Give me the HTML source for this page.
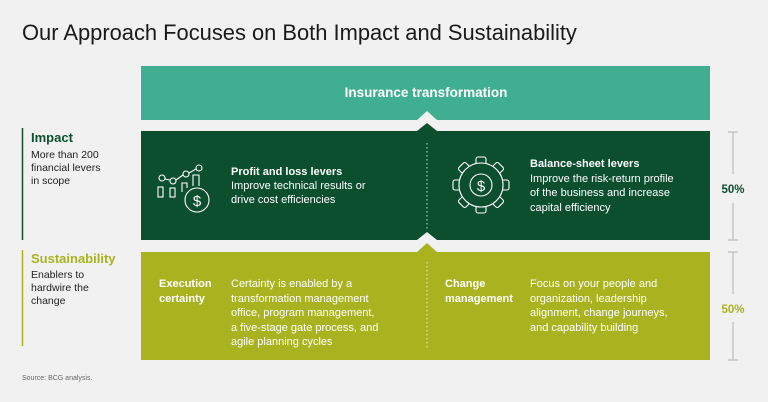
<!DOCTYPE html>
<html><head><meta charset="utf-8"><style>
body{margin:0;width:768px;height:402px;background:#f1f1f1;overflow:hidden;font-family:"Liberation Sans",sans-serif}
svg{position:absolute;left:0;top:0}
</style></head><body>
<svg width="768" height="402" viewBox="0 0 768 402" font-family="Liberation Sans, sans-serif">
<rect width="768" height="402" fill="#f1f1f1"/>
<text x="22" y="40" font-size="21.9" fill="#1a1a1a">Our Approach Focuses on Both Impact and Sustainability</text>
<polygon points="141,66 710,66 710,120 437,120 427,111 417,120 141,120" fill="#3fae91"/>
<text x="426" y="97" font-size="13.5" font-weight="bold" fill="#fff" text-anchor="middle">Insurance transformation</text>
<polygon points="141,131 417,131 427,123 437,131 710,131 710,240 437,240 427,232 417,240 141,240" fill="#0c4f2f"/>
<polygon points="141,252 417,252 427,243 437,252 710,252 710,360 141,360" fill="#a9b320"/>
<line x1="427" y1="143" x2="427" y2="230" stroke="#fff" stroke-width="1" stroke-dasharray="1.5,2.5" opacity=".8"/>
<line x1="427" y1="262" x2="427" y2="350" stroke="#fff" stroke-width="1" stroke-dasharray="1.5,2.5" opacity=".8"/>
<line x1="22.5" y1="128" x2="22.5" y2="240" stroke="#0c4f2f" stroke-width="1.5"/>
<text x="31" y="142" font-size="13" font-weight="bold" fill="#0c4f2f">Impact</text>
<text font-size="10.5" fill="#222"><tspan x="31" y="158">More than 200</tspan><tspan x="31" y="171">financial levers</tspan><tspan x="31" y="184">in scope</tspan></text>
<line x1="22.5" y1="250" x2="22.5" y2="346" stroke="#a9b320" stroke-width="1.5"/>
<text x="31" y="263" font-size="13" font-weight="bold" fill="#a9b320">Sustainability</text>
<text font-size="10.5" fill="#222"><tspan x="31" y="278">Enablers to</tspan><tspan x="31" y="291">hardwire the</tspan><tspan x="31" y="304">change</tspan></text>
<g stroke="#fff" stroke-width="1.1" fill="none">
<circle cx="162" cy="178" r="3"/><circle cx="173" cy="181" r="3"/><circle cx="186" cy="174" r="3"/><circle cx="199" cy="168" r="3"/>
<line x1="165" y1="179" x2="170" y2="180"/><line x1="176" y1="180" x2="183" y2="175"/><line x1="189" y1="173" x2="196" y2="169"/>
<rect x="158" y="187" width="5" height="10"/><rect x="170" y="188" width="5" height="9"/>
<polyline points="182,192 182,183 187,183 187,188"/><polyline points="193,186 193,175 199,175 199,186"/>
<circle cx="197" cy="200" r="12" fill="#0c4f2f"/>
</g>
<text x="197" y="206" font-size="15" fill="#fff" text-anchor="middle">$</text>
<g stroke="#fff" stroke-width="1.1" fill="#0c4f2f">
<rect x="476" y="157" width="10" height="10" rx="2"/>
<rect x="476" y="157" width="10" height="10" rx="2" transform="rotate(45 481 185)"/>
<rect x="476" y="157" width="10" height="10" rx="2" transform="rotate(90 481 185)"/>
<rect x="476" y="157" width="10" height="10" rx="2" transform="rotate(135 481 185)"/>
<rect x="476" y="157" width="10" height="10" rx="2" transform="rotate(180 481 185)"/>
<rect x="476" y="157" width="10" height="10" rx="2" transform="rotate(225 481 185)"/>
<rect x="476" y="157" width="10" height="10" rx="2" transform="rotate(270 481 185)"/>
<rect x="476" y="157" width="10" height="10" rx="2" transform="rotate(315 481 185)"/>
<circle cx="481" cy="185" r="22"/>
<circle cx="481" cy="185" r="11" fill="none"/>
</g>
<text x="481" y="191" font-size="15" fill="#fff" text-anchor="middle">$</text>
<text font-size="11" fill="#fff"><tspan x="231" y="175" font-weight="bold">Profit and loss levers</tspan><tspan x="231" y="189">Improve technical results or</tspan><tspan x="231" y="203">drive cost efficiencies</tspan></text>
<text font-size="11" fill="#fff"><tspan x="530" y="167" font-weight="bold">Balance-sheet levers</tspan><tspan x="530" y="182">Improve the risk-return profile</tspan><tspan x="530" y="196">of the business and increase</tspan><tspan x="530" y="211">capital efficiency</tspan></text>
<text font-size="11" fill="#fff" font-weight="bold"><tspan x="159" y="287">Execution</tspan><tspan x="159" y="302">certainty</tspan></text>
<text font-size="11" fill="#fff"><tspan x="231" y="287">Certainty is enabled by a</tspan><tspan x="231" y="302">transformation management</tspan><tspan x="231" y="316">office, program management,</tspan><tspan x="231" y="331">a five-stage gate process, and</tspan><tspan x="231" y="345">agile planning cycles</tspan></text>
<text font-size="11" fill="#fff" font-weight="bold"><tspan x="445" y="287">Change</tspan><tspan x="445" y="302">management</tspan></text>
<text font-size="11" fill="#fff"><tspan x="530" y="287">Focus on your people and</tspan><tspan x="530" y="302">organization, leadership</tspan><tspan x="530" y="316">alignment, change journeys,</tspan><tspan x="530" y="331">and capability building</tspan></text>
<g stroke="#bbb" stroke-width="1.2">
<line x1="733" y1="132" x2="733" y2="174"/><line x1="728" y1="132" x2="738" y2="132"/>
<line x1="733" y1="203" x2="733" y2="240"/><line x1="728" y1="240" x2="738" y2="240"/>
<line x1="733" y1="252" x2="733" y2="294"/><line x1="728" y1="252" x2="738" y2="252"/>
<line x1="733" y1="322" x2="733" y2="360"/><line x1="728" y1="360" x2="738" y2="360"/>
</g>
<text x="733" y="193" font-size="11.5" font-weight="bold" fill="#0c4f2f" text-anchor="middle">50%</text>
<text x="733" y="313" font-size="11.5" font-weight="bold" fill="#a9b320" text-anchor="middle">50%</text>
<text x="22" y="380" font-size="7" fill="#666">Source: BCG analysis.</text>
</svg>
</body></html>
